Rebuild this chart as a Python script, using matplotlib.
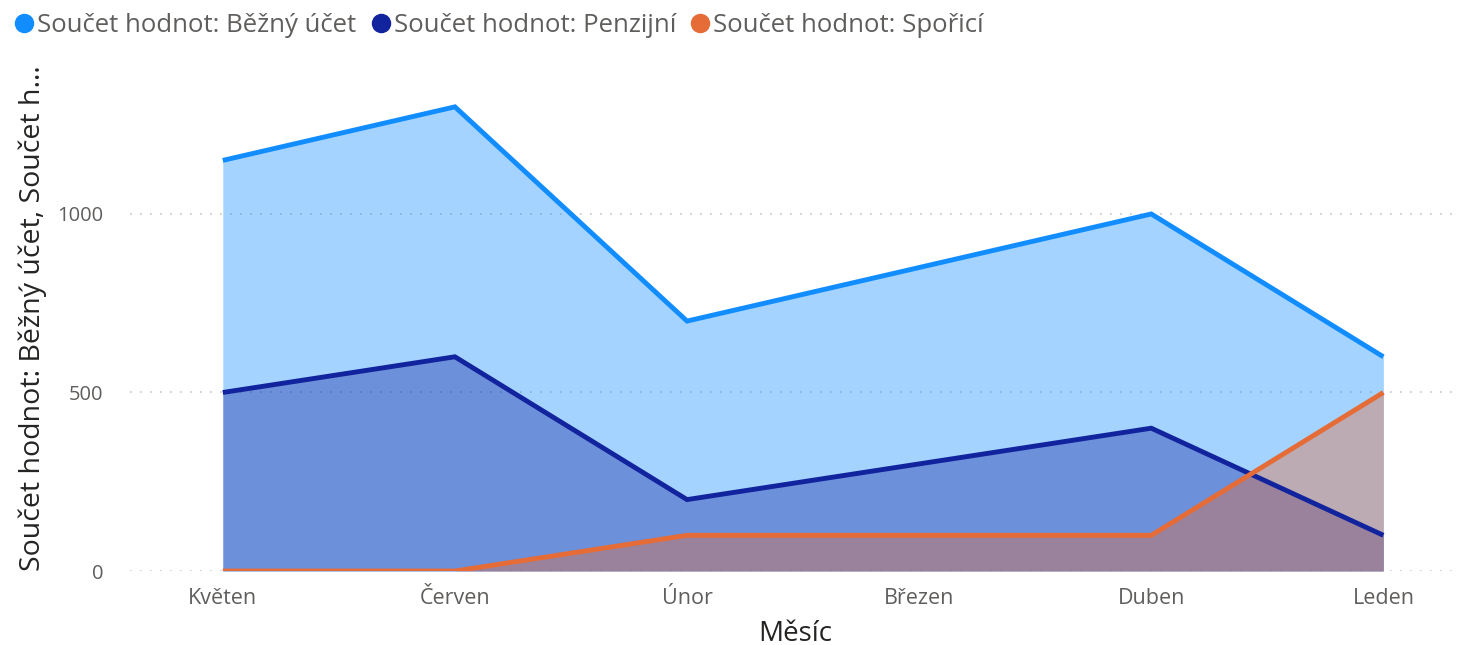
"""Area chart: Součet hodnot per account type by month."""
import matplotlib
matplotlib.use("Agg")
import matplotlib.pyplot as plt
from matplotlib.lines import Line2D

plt.rcParams['font.family'] = ['Open Sans', 'DejaVu Sans']

months = ['Květen', 'Červen', 'Únor', 'Březen', 'Duben', 'Leden']
bezny_ucet = [1150, 1300, 700, 850, 1000, 600]
penzijni = [500, 600, 200, 300, 400, 100]
sporici = [0, 0, 100, 100, 100, 500]

series = [
    ('Součet hodnot: Běžný účet', bezny_ucet, '#118DFF'),
    ('Součet hodnot: Penzijní', penzijni, '#12239E'),
    ('Součet hodnot: Spořicí', sporici, '#E66C37'),
]

fig = plt.figure(figsize=(14.6, 6.45), dpi=100)
ax = fig.add_axes([0.089, 0.1147, 0.911, 0.775])

x = list(range(len(months)))
for name, values, color in series:
    ax.fill_between(x, values, 0, color=color, alpha=0.38, linewidth=0)
for name, values, color in series:
    ax.plot(x, values, color=color, linewidth=3.5, solid_capstyle='butt',
            solid_joinstyle='miter')

ax.set_xlim(-0.4, 5.33)
ax.set_ylim(0, 1400)
ax.set_yticks([0, 500, 1000])
ax.set_xticks(x)
ax.set_xticklabels(months)
ax.tick_params(axis='x', length=0, labelsize=15.5, colors='#605E5C', pad=12)
ax.tick_params(axis='y', length=0, labelsize=14.5, colors='#605E5C', pad=19)
ax.grid(axis='y', linestyle=(0, (1, 5)), color='#C8C6C4', linewidth=1.2)
ax.set_axisbelow(True)
for spine in ax.spines.values():
    spine.set_visible(False)

ax.set_xlabel('Měsíc', fontsize=20, color='#252423', labelpad=8)
ax.set_ylabel('Součet hodnot: Běžný účet, Součet h…', fontsize=20.5,
              color='#252423')
ax.yaxis.set_label_coords(-0.062, 0.505)

handles = [Line2D([], [], marker='o', linestyle='none', markersize=13,
                  color=color) for _, _, color in series]
fig.legend(handles, [s[0] for s in series], loc='upper left',
           bbox_to_anchor=(-0.008, 1.015), ncol=3, frameon=False,
           handletextpad=0.0, columnspacing=0.45, handlelength=1.0,
           fontsize=18.5, labelcolor='#605E5C')

fig.savefig('out.png', dpi=100)
